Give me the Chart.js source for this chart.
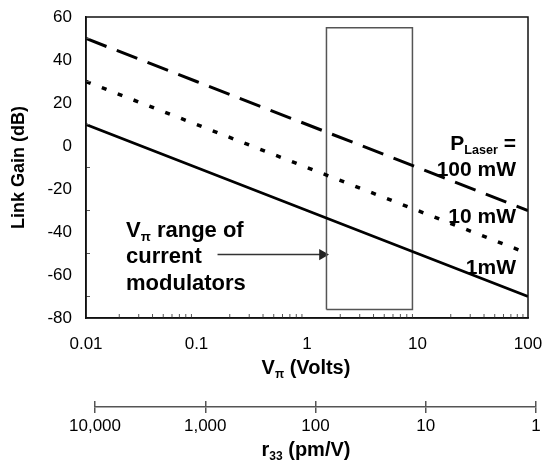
<!DOCTYPE html>
<html>
<head>
<meta charset="utf-8">
<script src="https://cdn.jsdelivr.net/npm/chart.js@4.4.0/dist/chart.umd.min.js"></script>
<style>
  body { margin: 0; background: #fff; }
  #wrap { position: relative; width: 545px; height: 460px; font-family: "Liberation Sans", Arial, sans-serif; color: #000; }
  canvas { position: absolute; left: 0; }
  .lbl { position: absolute; font-weight: bold; font-size: 22px; line-height: 1; white-space: nowrap; }
  .lbl sub { font-size: 0.6em; vertical-align: -0.3em; line-height: 0; }
  .dir { font-size: 21px; }
</style>
</head>
<body>
<div id="wrap">
  <canvas id="main" width="545" height="385" style="top:0"></canvas>
  <canvas id="r33" width="545" height="75" style="top:385px"></canvas>

  <div class="lbl" style="left:126px; top:219px">V<sub>π</sub> range of</div>
  <div class="lbl" style="left:126px; top:245px">current</div>
  <div class="lbl" style="left:126px; top:272px">modulators</div>

  <div class="lbl dir" style="right:29px; top:132px">P<sub>Laser</sub> =</div>
  <div class="lbl dir" style="right:29px; top:158px">100 mW</div>
  <div class="lbl dir" style="right:29px; top:205px">10 mW</div>
  <div class="lbl dir" style="right:29px; top:256px">1mW</div>

  <div class="lbl" style="left:306px; top:357px; font-size:20px; transform:translateX(-50%)">V<sub>π</sub> (Volts)</div>
  <div class="lbl" style="left:306px; top:439px; font-size:20px; transform:translateX(-50%)">r<sub>33</sub> (pm/V)</div>
</div>

<script>
// valores
const vpi = [0.01, 0.1, 1, 10, 100]
const ganho100mW = [50, 30, 10, -10, -30]
const ganho10mW = [30, 10, -10, -30, -50]
const ganho1mW = [10, -10, -30, -50, -70]

// caixa da faixa de Vpi dos moduladores atuais
const caixaX = [1.5, 1.5, 9, 9, 1.5]
const caixaY = [-76, 55, 55, -76, -76]
const setaX = [0.155, 1.38]
const setaY = [-50.5, -50.5]

const ticksX = [0.01, 0.1, 1, 10, 100]
const ticksR33 = [10000, 1000, 100, 10, 1]
const rotulosR33 = ['10,000', '1,000', '100', '10', '1']

const pts = (xs, ys) => xs.map((x, i) => ({ x: x, y: ys[i] }))

// moldura e tracinhos internos
const moldura = {
  id: 'moldura',
  afterDatasetsDraw(chart) {
    const { ctx, chartArea: a, scales } = chart
    ctx.save()
    ctx.strokeStyle = '#555'
    ctx.lineWidth = 1
    for (let e = -2; e < 2; e++) {
      for (let m = 2; m <= 9; m++) {
        const px = scales.x.getPixelForValue(m * Math.pow(10, e))
        ctx.beginPath()
        ctx.moveTo(px, a.bottom)
        ctx.lineTo(px, a.bottom - 4)
        ctx.stroke()
      }
    }
    for (let v = -70; v < 60; v += 20) {
      const py = scales.y.getPixelForValue(v)
      ctx.beginPath()
      ctx.moveTo(a.left, py)
      ctx.lineTo(a.left + 4, py)
      ctx.stroke()
    }
    ctx.strokeStyle = '#111'
    ctx.lineWidth = 1.5
    ctx.strokeRect(a.left, a.top, a.right - a.left, a.bottom - a.top)
    ctx.restore()
  }
}

new Chart(document.getElementById('main'), {
  type: 'line',
  data: {
    datasets: [
      { label: '100 mW', data: pts(vpi, ganho100mW), borderColor: '#000', borderWidth: 3, borderDash: [22, 11], pointRadius: 0 },
      { label: '10 mW', data: pts(vpi, ganho10mW), borderColor: '#000', borderWidth: 3.5, borderDash: [5, 12], pointRadius: 0 },
      { label: '1mW', data: pts(vpi, ganho1mW), borderColor: '#000', borderWidth: 2.8, pointRadius: 0 },
      { label: 'caixa', data: pts(caixaX, caixaY), borderColor: '#555', borderWidth: 1.5, pointRadius: 0 },
      {
        label: 'seta',
        data: pts(setaX, setaY),
        borderColor: '#333',
        borderWidth: 1.5,
        pointRadius: [0, 5],
        pointStyle: 'triangle',
        rotation: 90,
        pointBackgroundColor: '#222',
        pointBorderColor: '#222'
      }
    ]
  },
  options: {
    responsive: false,
    animation: false,
    layout: { padding: { top: 17, right: 17, left: 0, bottom: 0 } },
    plugins: { legend: { display: false }, tooltip: { enabled: false } },
    scales: {
      x: {
        type: 'logarithmic',
        min: 0.01,
        max: 100,
        afterBuildTicks: s => { s.ticks = ticksX.map(v => ({ value: v })) },
        afterFit: s => { s.height = 67 },
        ticks: {
          callback: v => String(v),
          font: { family: 'Liberation Sans', size: 17 },
          color: '#000',
          padding: 2,
          maxRotation: 0,
          autoSkip: false
        },
        grid: { drawOnChartArea: false, drawTicks: true, tickLength: 14, color: 'rgba(0,0,0,0)' },
        border: { color: '#111', width: 1.5 }
      },
      y: {
        min: -80,
        max: 60,
        afterFit: s => { s.width = 86 },
        ticks: {
          stepSize: 20,
          font: { family: 'Liberation Sans', size: 17 },
          color: '#000',
          padding: 2
        },
        grid: { drawOnChartArea: false, drawTicks: true, tickLength: 12, color: 'rgba(0,0,0,0)' },
        border: { color: '#111', width: 1.5 },
        title: {
          display: true,
          text: 'Link Gain (dB)',
          color: '#000',
          font: { family: 'Liberation Sans', size: 18, weight: 'bold' },
          padding: { top: 8, bottom: 0 }
        }
      }
    }
  },
  plugins: [moldura]
})

// segundo eixo: r33
new Chart(document.getElementById('r33'), {
  type: 'line',
  data: { datasets: [] },
  options: {
    responsive: false,
    animation: false,
    layout: { padding: { top: 16, right: 9, left: 95, bottom: 0 } },
    plugins: { legend: { display: false }, tooltip: { enabled: false } },
    scales: {
      x: {
        type: 'logarithmic',
        reverse: true,
        min: 1,
        max: 10000,
        afterBuildTicks: s => { s.ticks = ticksR33.map(v => ({ value: v })) },
        afterFit: s => { s.height = 53 },
        ticks: {
          callback: v => rotulosR33[ticksR33.indexOf(v)],
          font: { family: 'Liberation Sans', size: 17 },
          color: '#000',
          padding: 3,
          maxRotation: 0,
          autoSkip: false
        },
        grid: { color: '#555', lineWidth: 1.5, tickLength: 6 },
        border: { color: '#555', width: 1.5 }
      },
      y: { display: false, min: 0, max: 1 }
    }
  }
})
</script>
</body>
</html>
